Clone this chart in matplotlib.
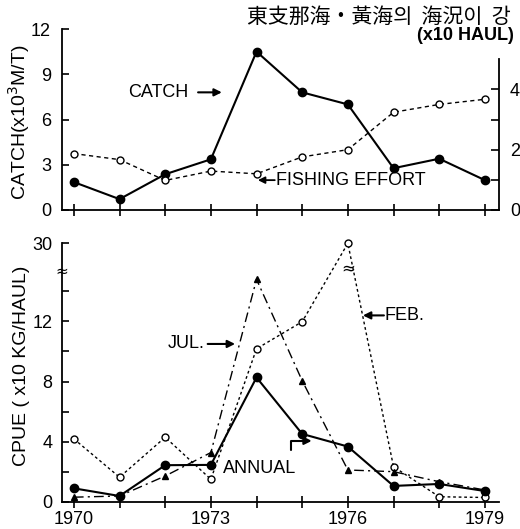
import numpy as np
import matplotlib
matplotlib.use("Agg")
import matplotlib.pyplot as plt
from matplotlib.ticker import FixedLocator, NullFormatter

plt.rcParams['font.family'] = ['Liberation Sans', 'DejaVu Sans']

# ---------------- data ----------------
years = [1970, 1971, 1972, 1973, 1974, 1975, 1976, 1977, 1978, 1979]
catch = [1.85, 0.72, 2.37, 3.36, 10.5, 7.8, 7.0, 2.77, 3.4, 1.98]          # x10^3 M/T
effort = [1.87, 1.67, 0.98, 1.29, 1.20, 1.76, 2.00, 3.24, 3.50, 3.67]     # x10 HAUL
cpue_annual = [0.89, 0.38, 2.43, 2.45, 8.27, 4.51, 3.67, 1.05, 1.18, 0.71]
cpue_feb = [4.18, 1.63, 4.29, 1.49, 10.18, 11.98, 30.0, 2.33, 0.33, 0.28]
cpue_jul = [0.30, 0.38, 1.71, 3.27, 14.8, 8.05, 2.11, 2.0, 1.33, 0.78]
xtick_labels_bottom = ['1970', '', '', '1973', '', '', '1976', '', '', '1979']

title_text = '東支那海・黃海의  海況이  강'

W, H = 520, 529
fig = plt.figure(figsize=(W / 100, H / 100), dpi=100)
fig.patch.set_facecolor('white')

XL = (1969.74, 1979.31)
FS = 13

# ---------------- top panel ----------------
ax1 = fig.add_axes([62 / W, 1 - 210 / H, 437 / W, 181 / H])
ax1.set_xlim(*XL)
ax1.set_ylim(0, 12)
for s in ['top', 'right']:
    ax1.spines[s].set_visible(False)
for s in ['left', 'bottom']:
    ax1.spines[s].set_linewidth(1.3)
ax1.plot(years, catch, '-', color='black', lw=1.5, marker='o', ms=6,
         mfc='black', mec='black', clip_on=False, zorder=3)
ax1.set_yticks([0, 3, 6, 9, 12])
ax1.set_xticks(years)
ax1.set_xticklabels([])
ax1.tick_params(axis='y', direction='in', length=5, width=1.2, labelsize=FS, pad=8)
ax1.tick_params(axis='x', direction='inout', length=9, width=1.2)
ax1.set_ylabel('CATCH(x10$^3$M/T)', fontsize=14)
ax1.yaxis.set_label_coords(-0.068, 0.486)

ax2 = ax1.twinx()
ax2.set_ylim(0, 6)
for s in ['top', 'left', 'bottom']:
    ax2.spines[s].set_visible(False)
ax2.spines['right'].set_bounds(0, 5)
ax2.spines['right'].set_linewidth(1.3)
ax2.plot(years, effort, linestyle=(0, (3, 2.5)), color='black', lw=1.0,
         marker='o', ms=5, mfc='white', mec='black', mew=1.0, clip_on=False, zorder=3)
ax2.yaxis.set_major_locator(FixedLocator([0, 2, 4]))
ax2.yaxis.set_minor_locator(FixedLocator([1, 3]))
ax2.yaxis.set_minor_formatter(NullFormatter())
ax2.tick_params(axis='y', which='both', direction='in', length=6, width=1.2,
                labelsize=FS, pad=8)
fig.text(465 / W, 1 - 36 / H, '(x10 HAUL)', fontsize=13, fontweight='bold',
         ha='center', va='center')
fig.text(247 / W, 1 - 17 / H, title_text, fontsize=15,
         family=['Noto Sans CJK KR', 'DejaVu Sans'], ha='left', va='center')

# annotations top
ax1.text(1971.18, 7.8, 'CATCH', fontsize=FS, ha='left', va='center')
ax1.annotate('', xy=(1973.24, 7.8), xytext=(1972.72, 7.8),
             arrowprops=dict(arrowstyle='-|>', color='black', lw=1.5,
                             mutation_scale=11, shrinkA=0, shrinkB=0))
ax1.text(1974.42, 1.98, 'FISHING EFFORT', fontsize=FS, ha='left', va='center')
ax1.annotate('', xy=(1974.03, 1.98), xytext=(1974.40, 1.98),
             arrowprops=dict(arrowstyle='-|>', color='black', lw=1.3,
                             mutation_scale=10, shrinkA=0, shrinkB=0))

# ---------------- bottom panel ----------------
K = 2.2 / 15.0


def fwd(y):
    y = np.asarray(y, dtype=float)
    return np.where(y <= 15, y, 15 + (y - 15) * K)


def inv(y):
    y = np.asarray(y, dtype=float)
    return np.where(y <= 15, y, 15 + (y - 15) / K)


ax3 = fig.add_axes([62 / W, 1 - 501.7 / H, 437 / W, 258.4 / H])
ax3.set_yscale('function', functions=(fwd, inv))
ax3.set_xlim(*XL)
ax3.set_ylim(0, 30)
for s in ['top', 'right']:
    ax3.spines[s].set_visible(False)
for s in ['left', 'bottom']:
    ax3.spines[s].set_linewidth(1.3)

ax3.plot(years, cpue_feb, linestyle=(0, (2, 2)), color='black', lw=1.0,
         marker='o', ms=5, mfc='white', mec='black', mew=1.0, clip_on=False, zorder=3)
ax3.plot(years, cpue_jul, linestyle=(0, (7, 3, 1.5, 3)), color='black', lw=1.0,
         marker='^', ms=4, mfc='black', mec='black', clip_on=False, zorder=3)
ax3.plot(years, cpue_annual, '-', color='black', lw=1.5, marker='o', ms=6,
         mfc='black', mec='black', clip_on=False, zorder=4)

ax3.yaxis.set_major_locator(FixedLocator([0, 4, 8, 12, 30]))
ax3.yaxis.set_minor_locator(FixedLocator([2, 6, 10, 14]))
ax3.yaxis.set_minor_formatter(NullFormatter())
ax3.tick_params(axis='y', which='both', direction='in', length=5, width=1.2,
                labelsize=FS, pad=7)
ax3.set_xticks(years)
ax3.set_xticklabels(xtick_labels_bottom)
ax3.tick_params(axis='x', direction='inout', length=8, width=1.2, labelsize=FS, pad=3)
ax3.set_ylabel('CPUE ( x10 KG/HAUL)', fontsize=14)
ax3.yaxis.set_label_coords(-0.074, 0.525)

# axis break marks
ax3.text(0, float(inv(15.35)), '≈', transform=ax3.get_yaxis_transform(),
         fontsize=11, ha='center', va='center', family='DejaVu Sans')
ax3.text(1976.0, float(inv(15.55)), '≈', fontsize=12, ha='center', va='center',
         family='DejaVu Sans')

# annotations bottom
ax3.text(1972.87, 10.5, 'JUL.', fontsize=FS, ha='right', va='center')
ax3.annotate('', xy=(1973.53, 10.5), xytext=(1972.93, 10.5),
             arrowprops=dict(arrowstyle='-|>', color='black', lw=1.5,
                             mutation_scale=11, shrinkA=0, shrinkB=0))
ax3.text(1976.81, 12.4, 'FEB.', fontsize=FS, ha='left', va='center')
ax3.annotate('', xy=(1976.33, 12.4), xytext=(1976.79, 12.4),
             arrowprops=dict(arrowstyle='-|>', color='black', lw=1.5,
                             mutation_scale=11, shrinkA=0, shrinkB=0))
ax3.text(1973.26, 2.23, 'ANNUAL', fontsize=FS, ha='left', va='center')
ax3.annotate('', xy=(1975.21, 4.05), xytext=(1974.76, 3.45),
             arrowprops=dict(arrowstyle='-|>', color='black', lw=1.5,
                             mutation_scale=11, shrinkA=0, shrinkB=0,
                             connectionstyle='angle,angleA=90,angleB=0,rad=0'))

fig.savefig('out.png', dpi=100, facecolor='white')
